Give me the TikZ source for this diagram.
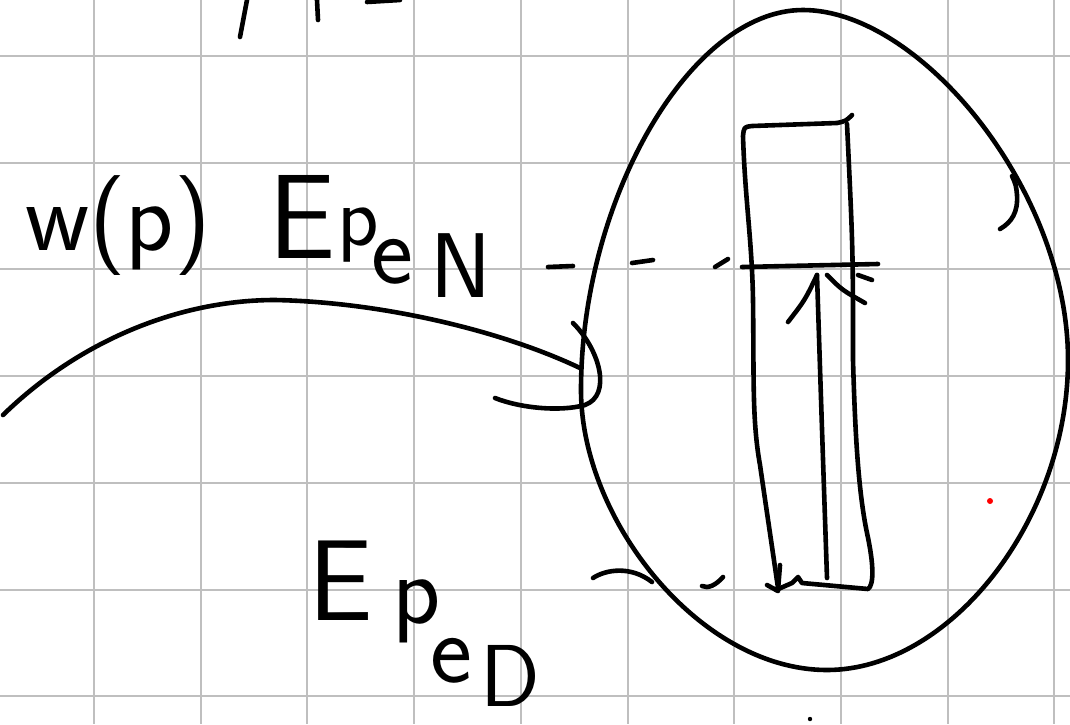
\documentclass[tikz,border=0pt]{standalone}
\begin{document}
\begin{tikzpicture}[x=1pt,y=-1pt,
  gridline/.style={draw=black!25,line width=2pt},
  ink/.style={draw=black,line width=4.6pt,line cap=round,line join=round},
  lbl/.style={anchor=base west,inner sep=0pt,text=black,font=\sffamily}]
\useasboundingbox (0,0) rectangle (1070,724);
\fill[white] (0,0) rectangle (1070,724);
% grid
\foreach \gx in {94,200.7,307.4,414.1,520.8,627.5,734.2,840.9,947.6,1054.3}
  \draw[gridline] (\gx,0) -- (\gx,724);
\foreach \gy in {56,162.7,269.4,376.1,482.8,589.5,696.2}
  \draw[gridline] (0,\gy) -- (1070,\gy);
% fragments at the top edge
\draw[ink] (247,0) -- (240,37);
\draw[ink] (317,0) -- (318,20);
\draw[ink] (367,2) -- (400,0);
% big egg-shaped outline
\draw[ink] (803,10) .. controls (920,10) and (1068,190) .. (1068,360)
  .. controls (1068,520) and (950,670) .. (827,670)
  .. controls (700,670) and (581,520) .. (581,390)
  .. controls (581,200) and (690,10) .. cycle;
% little hook on the right
\draw[ink] (1000,229) .. controls (1012,222) and (1018,212) .. (1017,195) .. controls (1016,185) .. (1012,176);
% rectangle (hand drawn)
\draw[ink] (852,115) .. controls (846,121) .. (837,123) -- (752,126)
  .. controls (744,127) .. (743,136)
  .. controls (745,200) and (752,240) .. (753,300)
  .. controls (754,380) and (752,420) .. (760,465)
  .. controls (768,520) and (774,560) .. (778,588);
\draw[ink] (847,124) .. controls (853,250) .. (853,360)
  .. controls (855,430) and (858,490) .. (867,533)
  .. controls (874,565) and (874,585) .. (868,589) -- (802,583) -- (798,577) -- (792,583) -- (776,590);
% down arrow tip at bottom left
\draw[ink] (780,565) -- (778,590);
\draw[ink] (767,585) -- (778,591);
% horizontal line at the top level
\draw[ink] (742,267) -- (878,264);
\draw[ink] (858,275) -- (872,280);
% vertical arrow
\draw[ink] (827,578) .. controls (822,430) .. (817,275);
\draw[ink] (817,275) .. controls (805,300) .. (788,322);
\draw[ink] (827,275) .. controls (842,290) .. (865,303);
% dashed guide lines
\draw[ink] (548,267) -- (573,266);
\draw[ink] (632,263) -- (653,260);
\draw[ink] (715,267) -- (728,259);
\draw[ink] (593,578) .. controls (605,570) and (630,565) .. (652,582);
\draw[ink] (702,586) .. controls (708,589) and (716,585) .. (723,577);
% left curve with hook
\draw[ink] (3,415) .. controls (80,340) and (180,300) .. (275,300)
  .. controls (380,302) and (500,330) .. (580,368);
\draw[ink] (573,323) .. controls (600,350) and (612,395) .. (585,405)
  .. controls (560,412) and (520,408) .. (495,398);
% labels
\node[lbl] (top) at (25,250) {\makebox[243pt][l]{\fontsize{100}{100}\selectfont w(p)}%
  \makebox[69pt][l]{\raisebox{-8pt}{\fontsize{120}{120}\selectfont E}}%
  \makebox[34pt][l]{\raisebox{5pt}{\fontsize{86}{86}\selectfont p}}%
  \makebox[59pt][l]{\raisebox{-33pt}{\fontsize{100}{100}\selectfont e}}%
  \raisebox{-47pt}{\fontsize{92}{92}\selectfont N}};
\node[lbl] (bot) at (308,620) {\makebox[84pt][l]{\fontsize{115}{115}\selectfont E}%
  \makebox[38pt][l]{\raisebox{-3pt}{\fontsize{100}{100}\selectfont p}}%
  \makebox[50pt][l]{\raisebox{-62pt}{\fontsize{100}{100}\selectfont e}}%
  \raisebox{-86pt}{\fontsize{88}{88}\selectfont D}};
% dots
\fill[black] (810,719) circle (2.2);
\fill[red] (990,501) circle (3);
\end{tikzpicture}
\end{document}
